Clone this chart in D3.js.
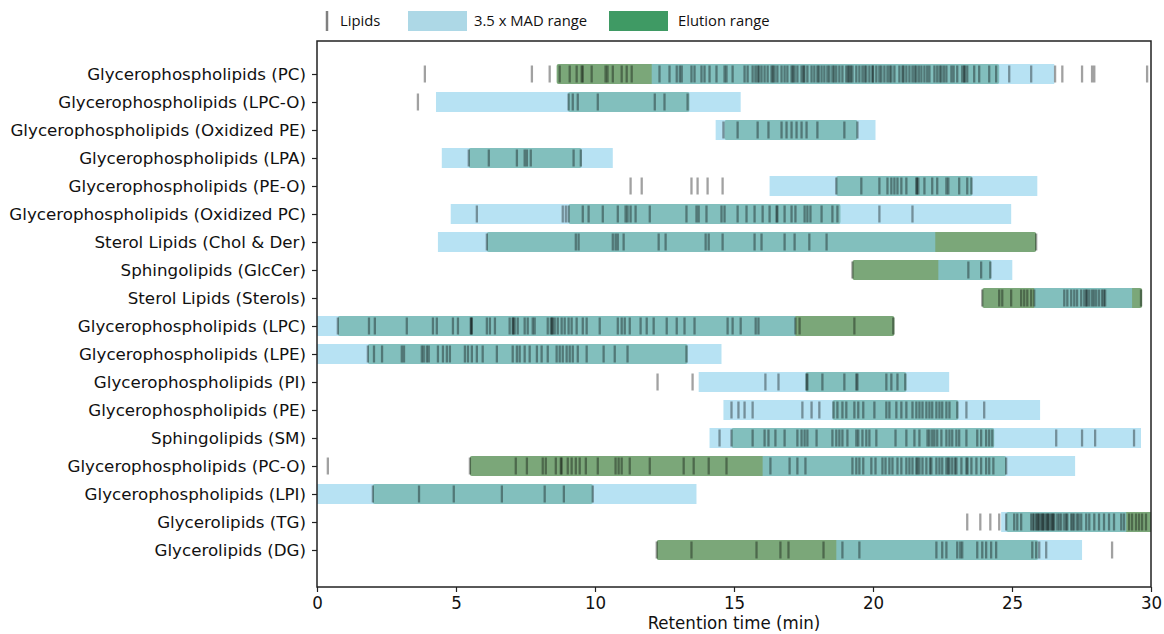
<!DOCTYPE html>
<html>
<head>
<meta charset="utf-8">
<title>Lipid retention time ranges</title>
<script src="https://cdn.jsdelivr.net/npm/d3@7"></script>
<style>
  body { margin: 0; background: #fff; }
  .ylab text { font-family: "DejaVu Sans", sans-serif; font-size: 16.7px; fill: #111; }
  .xlab text { font-family: "DejaVu Sans Condensed", "DejaVu Sans", sans-serif; font-size: 18.5px; fill: #111; }
  .legend text { font-family: "Open Sans", sans-serif; font-size: 14.8px; fill: #111; }
</style>
</head>
<body>
<script>
// class names, top to bottom
var categories = [
  "Glycerophospholipids (PC)", "Glycerophospholipids (LPC-O)", "Glycerophospholipids (Oxidized PE)",
  "Glycerophospholipids (LPA)", "Glycerophospholipids (PE-O)", "Glycerophospholipids (Oxidized PC)",
  "Sterol Lipids (Chol & Der)", "Sphingolipids (GlcCer)", "Sterol Lipids (Sterols)",
  "Glycerophospholipids (LPC)", "Glycerophospholipids (LPE)", "Glycerophospholipids (PI)",
  "Glycerophospholipids (PE)", "Sphingolipids (SM)", "Glycerophospholipids (PC-O)",
  "Glycerophospholipids (LPI)", "Glycerolipids (TG)", "Glycerolipids (DG)"
];

// 3.5 x MAD range [start, end] in min
var madRanges = [
  [12.04, 26.52], [4.28, 15.24], [14.34, 20.09], [4.49, 10.64], [16.28, 25.91], [4.81, 24.97],
  [4.35, 22.24], [22.35, 25.01], [25.80, 29.32], [0, 17.21], [0, 14.55], [13.73, 22.74],
  [14.62, 26.01], [14.12, 29.64], [16.03, 27.27], [0, 13.65], [24.61, 29.11], [18.68, 27.52]
];

// elution range [start, end] in min
var elutionRanges = [
  [8.62, 24.54], [9.03, 13.40], [14.66, 19.44], [5.46, 9.52], [18.68, 23.57], [9.05, 18.83],
  [6.11, 25.87], [19.26, 24.25], [23.93, 29.68], [0.75, 20.77], [1.83, 13.33], [17.57, 21.20],
  [18.54, 23.07], [14.91, 24.36], [5.50, 24.79], [2.01, 9.92], [24.79, 30.2], [12.22, 25.94]
];

// retention times of individual lipids (min)
var lipids = [
  [3.88, 7.73, 8.37, 8.73, 9.09, 9.34, 9.52, 9.56, 9.88, 10.38, 10.45, 10.64, 10.96, 11.14, 11.32, 12.32, 12.68, 12.94, 13.05, 13.12,
   13.47, 13.58, 13.83, 13.94, 14.12, 14.37, 14.66, 14.73, 14.95, 15.38, 15.49, 15.67, 15.77, 15.85, 15.99, 16.10, 16.21, 16.35, 16.46, 16.56,
   16.71, 16.82, 16.92, 17.07, 17.18, 17.28, 17.43, 17.53, 17.64, 17.79, 17.89, 18.00, 18.15, 18.25, 18.36, 18.43, 18.54, 18.68, 18.79, 18.90,
   19.04, 19.15, 19.26, 19.40, 19.51, 19.62, 19.76, 19.87, 19.98, 20.12, 20.23, 20.41, 20.52, 20.66, 20.77, 20.95, 21.06, 21.20, 21.31, 21.42,
   21.56, 21.74, 21.85, 22.03, 22.21, 22.31, 22.46, 22.64, 22.82, 23.03, 23.21, 23.28, 23.39, 23.64, 23.82, 24.18, 24.43, 24.90, 25.69, 26.55,
   26.81, 27.52, 27.88, 27.96, 29.86,
   17.12, 17.50, 18.05, 18.60, 19.20, 19.70, 20.30, 20.60, 21.10, 21.50, 21.95, 22.40, 22.90, 23.30, 15.90, 16.40, 19.10, 20.00, 21.65, 22.55],
  [3.63, 9.05, 9.20, 9.38, 10.10, 12.15, 12.50, 13.33],
  [14.62, 15.13, 15.85, 16.24, 16.71, 16.89, 17.07, 17.25, 17.43, 17.61, 18.00, 18.97, 19.44],
  [5.46, 6.18, 7.19, 7.47, 7.55, 7.69, 9.23, 9.49],
  [11.28, 11.68, 13.47, 13.69, 14.05, 14.59, 18.68, 19.58, 20.23, 20.52, 20.66, 20.77, 20.88, 21.02, 21.20, 21.56, 21.63, 21.85, 22.13, 22.31,
   22.64, 22.71, 23.10, 23.39, 23.54, 21.58],
  [5.75, 8.84, 8.95, 9.05, 9.56, 9.77, 10.28, 10.82, 11.10, 11.17, 11.28, 11.46, 11.97, 13.29, 13.65, 13.73, 14.01, 14.55, 14.66, 15.13,
   15.45, 15.74, 16.03, 16.28, 16.53, 16.56, 16.82, 17.07, 17.21, 17.54, 17.64, 17.75, 18.15, 18.54, 18.72, 20.23, 21.42],
  [6.11, 9.31, 9.41, 10.64, 10.74, 10.82, 11.03, 12.29, 12.54, 13.98, 14.09, 14.59, 15.74, 15.99, 16.82, 17.18, 17.71, 18.33, 25.87],
  [19.26, 23.43, 23.89, 24.22],
  [23.93, 24.54, 24.65, 24.97, 25.33, 25.44, 25.55, 25.69, 25.80, 26.88, 26.99, 27.13, 27.24, 27.34, 27.49, 27.60, 27.67, 27.78, 27.88, 28.03,
   28.13, 28.24, 28.35, 29.64, 27.70, 27.95, 28.30],
  [0.75, 1.87, 2.08, 3.23, 4.17, 4.31, 4.89, 5.07, 5.53, 5.57, 6.11, 6.22, 6.40, 6.93, 7.04, 7.11, 7.22, 7.47, 7.58, 7.76,
   7.83, 8.30, 8.41, 8.48, 8.55, 8.66, 8.80, 8.91, 9.05, 9.16, 9.34, 9.56, 9.70, 10.17, 10.82, 10.96, 11.07, 11.25, 11.64, 11.86,
   12.11, 12.58, 12.94, 13.22, 13.58, 14.77, 14.95, 15.24, 15.78, 15.88, 17.21, 17.36, 19.33, 20.73, 5.55, 7.06, 8.45],
  [1.83, 2.05, 2.34, 3.05, 3.13, 3.77, 3.84, 3.95, 4.02, 4.35, 4.53, 4.67, 4.78, 5.32, 5.43, 5.57, 5.75, 5.96, 6.47, 7.04,
   7.19, 7.29, 7.47, 7.65, 7.91, 8.08, 8.30, 8.62, 8.73, 8.84, 8.98, 9.09, 9.20, 9.38, 9.70, 10.31, 10.71, 11.17, 13.29],
  [12.25, 13.51, 16.13, 16.60, 17.61, 17.64, 18.18, 18.97, 19.40, 19.44, 20.48, 20.66, 20.88, 21.16],
  [14.91, 15.16, 15.38, 15.67, 17.46, 17.79, 18.07, 18.58, 18.72, 18.90, 19.04, 19.33, 19.47, 19.65, 20.05, 20.48, 20.59, 20.84, 21.02, 21.20,
   21.42, 21.56, 21.67, 21.78, 21.92, 22.03, 22.13, 22.28, 22.39, 22.49, 22.64, 22.75, 23.03, 23.36, 24.00],
  [14.48, 14.91, 15.67, 16.10, 16.24, 16.49, 16.82, 17.28, 17.43, 17.54, 17.64, 17.97, 18.54, 18.68, 18.79, 18.90, 19.08, 19.40, 19.47, 19.62,
   19.76, 19.87, 20.12, 20.81, 21.20, 21.49, 21.67, 21.96, 22.03, 22.13, 22.21, 22.31, 22.46, 22.64, 22.75, 22.85, 23.00, 23.10, 23.36, 23.75,
   23.89, 24.07, 24.18, 24.29, 26.59, 27.52, 27.99, 29.39],
  [0.39, 5.50, 7.15, 7.55, 8.12, 8.23, 8.59, 8.77, 8.80, 9.02, 9.16, 9.31, 9.45, 9.67, 10.10, 10.74, 10.85, 10.96, 11.25, 11.97,
   13.19, 13.55, 14.09, 14.73, 16.31, 17.00, 17.28, 17.57, 19.26, 19.40, 19.51, 19.65, 19.94, 20.09, 20.34, 20.45, 20.59, 20.70, 20.88, 21.02,
   21.20, 21.31, 21.42, 21.56, 21.67, 21.78, 21.92, 22.10, 22.28, 22.39, 22.49, 22.64, 22.75, 22.85, 23.00, 23.18, 23.36, 23.54, 23.72, 23.89,
   24.07, 24.18, 24.33, 24.79, 21.60, 22.05, 22.70, 22.95, 23.40],
  [2.01, 3.67, 4.92, 6.65, 8.19, 8.88, 9.92],
  [23.39, 23.86, 24.22, 24.54, 24.79, 25.08, 25.19, 25.33, 25.69, 25.80, 25.87, 25.91, 25.98, 26.05, 26.09, 26.16, 26.23, 26.27, 26.34, 26.41,
   26.45, 26.52, 26.63, 26.77, 26.88, 26.99, 27.13, 27.24, 27.34, 27.49, 27.67, 27.78, 27.96, 28.13, 28.31, 28.49, 28.67, 28.93, 29.03, 29.21,
   29.32, 29.46, 29.57, 29.68, 29.82, 25.75, 25.95, 26.12, 26.30, 26.48, 26.70, 26.95, 27.18, 27.40],
  [12.22, 13.47, 15.81, 16.67, 16.96, 18.22, 18.90, 19.51, 22.28, 22.49, 22.64, 23.03, 23.14, 23.21, 23.75, 23.93, 24.07, 24.25, 24.43, 25.73,
   25.87, 25.98, 26.23, 28.60]
];

var xTicks = [0, 5, 10, 15, 20, 25, 30];

var W = 1164, H = 634;
var mLeft = 317, mRight = 1151, mTop = 41, mBottom = 587;

var svg = d3.select("body").append("svg")
  .attr("width", W).attr("height", H);

var x = d3.scaleLinear().domain([0, 30]).range([mLeft, mRight]);
var y = d3.scalePoint().domain(categories).range([74, 550]);
var barH = 20, tickH = 17;

svg.append("clipPath").attr("id", "plotclip")
  .append("rect").attr("x", mLeft).attr("y", mTop).attr("width", mRight - mLeft).attr("height", mBottom - mTop);

var plot = svg.append("g").attr("clip-path", "url(#plotclip)");

// elution ranges (drawn first, MAD goes on top with transparency)
plot.selectAll("rect.elution")
  .data(categories)
  .join("rect")
  .attr("class", "elution")
  .attr("x", function(d, i) { return x(elutionRanges[i][0]); })
  .attr("width", function(d, i) { return x(elutionRanges[i][1]) - x(elutionRanges[i][0]); })
  .attr("y", function(d) { return y(d) - barH / 2; })
  .attr("height", barH)
  .attr("rx", 2)
  .attr("fill", "rgb(35,108,32)")
  .attr("fill-opacity", 0.6);

plot.selectAll("rect.mad")
  .data(categories)
  .join("rect")
  .attr("class", "mad")
  .attr("x", function(d, i) { return x(madRanges[i][0]); })
  .attr("width", function(d, i) { return x(madRanges[i][1]) - x(madRanges[i][0]); })
  .attr("y", function(d) { return y(d) - barH / 2; })
  .attr("height", barH)
  .attr("fill", "#87ceeb")
  .attr("fill-opacity", 0.6);

// lipid ticks
categories.forEach(function(cat, i) {
  plot.append("g").selectAll("line")
    .data(lipids[i])
    .join("line")
    .attr("x1", function(d) { return x(d); })
    .attr("x2", function(d) { return x(d); })
    .attr("y1", y(cat) - tickH / 2)
    .attr("y2", y(cat) + tickH / 2)
    .attr("stroke", "#000")
    .attr("stroke-opacity", 0.37)
    .attr("stroke-width", 2.3);
});

// axes
var yAxis = svg.append("g").attr("class", "ylab")
  .attr("transform", "translate(" + mLeft + ",0)")
  .call(d3.axisLeft(y).tickSize(5).tickPadding(6));
yAxis.select(".domain").remove();

var xAxis = svg.append("g").attr("class", "xlab")
  .attr("transform", "translate(0," + mBottom + ")")
  .call(d3.axisBottom(x).tickValues(xTicks).tickSize(5).tickPadding(4));
xAxis.select(".domain").remove();
svg.selectAll(".tick line").attr("stroke", "#222").attr("stroke-width", 1.2);

// frame
svg.append("rect")
  .attr("x", mLeft).attr("y", mTop)
  .attr("width", mRight - mLeft).attr("height", mBottom - mTop)
  .attr("fill", "none").attr("stroke", "#222").attr("stroke-width", 1.5);

svg.append("g").attr("class", "xlab")
  .append("text")
  .attr("x", (mLeft + mRight) / 2).attr("y", 629)
  .attr("text-anchor", "middle")
  .text("Retention time (min)");

// legend
var legend = svg.append("g").attr("class", "legend");
legend.append("line")
  .attr("x1", 327).attr("x2", 327).attr("y1", 11).attr("y2", 31)
  .attr("stroke", "#808080").attr("stroke-width", 2.5);
legend.append("text").attr("x", 340).attr("y", 26).text("Lipids");
legend.append("rect").attr("x", 408).attr("y", 11).attr("width", 59).attr("height", 20).attr("fill", "#add8e6");
legend.append("text").attr("x", 474).attr("y", 26).text("3.5 x MAD range");
legend.append("rect").attr("x", 609).attr("y", 11).attr("width", 59).attr("height", 20).attr("fill", "#3f9a64");
legend.append("text").attr("x", 678).attr("y", 26).text("Elution range");
</script>
</body>
</html>
